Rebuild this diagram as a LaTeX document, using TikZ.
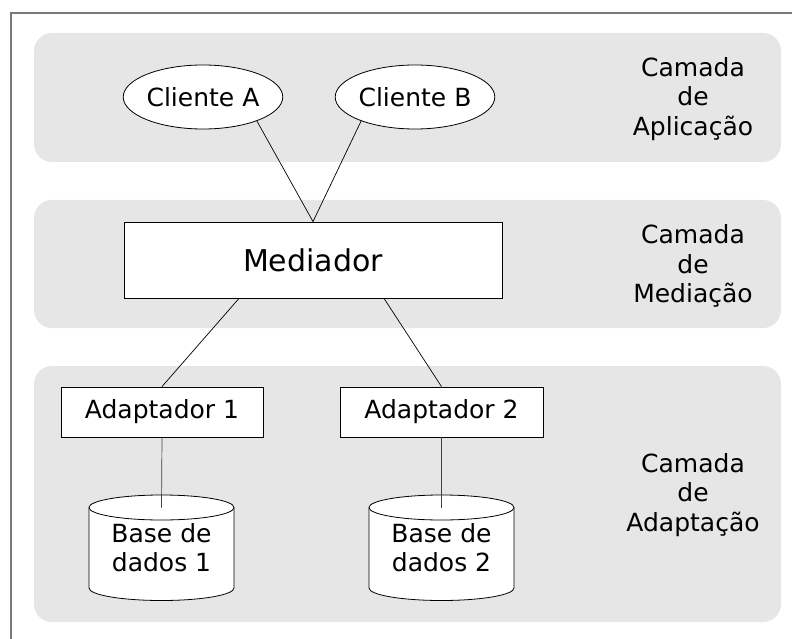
\documentclass[tikz,border=0pt]{standalone}
\usepackage{fontspec}
\setmainfont{DejaVu Sans}
\usetikzlibrary{shapes.geometric,calc}

\definecolor{bandgray}{HTML}{E6E6E6}
\definecolor{framegray}{HTML}{7A7A7A}

\tikzset{
  band/.style={fill=bandgray, draw=none, rounded corners=18pt},
  client/.style={ellipse, draw=black, fill=white, line width=0.8pt,
    minimum width=159pt, minimum height=64pt, inner sep=0pt,
    font=\fontsize{25}{30}\selectfont},
  box/.style={rectangle, draw=black, fill=white, line width=0.8pt,
    inner sep=0pt, font=\fontsize{25}{30}\selectfont},
  dbshape/.style={draw=black, fill=white, line width=0.8pt},
  dblabel/.style={align=center, inner sep=0pt, font=\fontsize{25}{29}\selectfont},
  layerlabel/.style={align=center, inner sep=0pt, font=\fontsize{25}{29.5}\selectfont},
  link/.style={draw=black, line width=0.7pt},
  dblink/.style={draw=black!75, line width=0.7pt}
}

\begin{document}
\begin{tikzpicture}[x=1pt, y=-1pt]
  \useasboundingbox (0,0) rectangle (792,639);

  % outer frame (top and left edges)
  \draw[framegray, line width=1.6pt] (11,639) -- (11,13) -- (792,13);

  % layer bands
  \fill[band] (34,33) rectangle (781,162);
  \fill[band] (34,200) rectangle (781,328);
  \fill[band] (34,366) rectangle (781,622);

  % layer names
  \node[layerlabel] (lapp) at (693,99) {Camada\\de\\Aplicação};
  \node[layerlabel] (lmed) at (693,266) {Camada\\de\\Mediação};
  \node[layerlabel] (lada) at (693,495) {Camada\\de\\Adaptação};

  % application layer
  \node[client] (ca) at (203,97) {Cliente A};
  \node[client] (cb) at (415,97) {Cliente B};

  % mediation layer
  \node[box, minimum width=378pt, minimum height=76pt,
        font=\fontsize{30}{36}\selectfont] (med) at (313,260) {Mediador};

  % adaptation layer
  \node[box, minimum width=202pt, minimum height=50pt] (ad1) at (162,412) {Adaptador 1};
  \node[box, minimum width=203pt, minimum height=50pt] (ad2) at (441.5,412) {Adaptador 2};

  % databases
  \foreach \cx in {161.5, 441.5} {
    \draw[dbshape] (\cx-72.5,507.5) -- (\cx-72.5,588)
      arc[start angle=180, end angle=360, x radius=72.5pt, y radius=12.5pt]
      -- (\cx+72.5,507.5)
      arc[start angle=0, end angle=180, x radius=72.5pt, y radius=12.5pt] -- cycle;
    \draw[dbshape, fill=none] (\cx-72.5,507.5)
      arc[start angle=180, end angle=360, x radius=72.5pt, y radius=12.5pt];
  }
  \coordinate (db1top) at (161.5,507.5);
  \coordinate (db2top) at (441.5,507.5);
  \node[dblabel] (db1) at (161.5,547.5) {Base de\\dados 1};
  \node[dblabel] (db2) at (441.5,547.5) {Base de\\dados 2};

  % connectors
  \draw[link] (ca.-24) -- (med.north);
  \draw[link] (cb.-156) -- (med.north);
  \draw[link] ($(med.south)+(-74,0)$) -- (ad1.north);
  \draw[link] ($(med.south)+(71,0)$) -- (ad2.north);
  \draw[dblink] (ad1.south) -- (db1top);
  \draw[dblink] (ad2.south) -- (db2top);
\end{tikzpicture}
\end{document}
